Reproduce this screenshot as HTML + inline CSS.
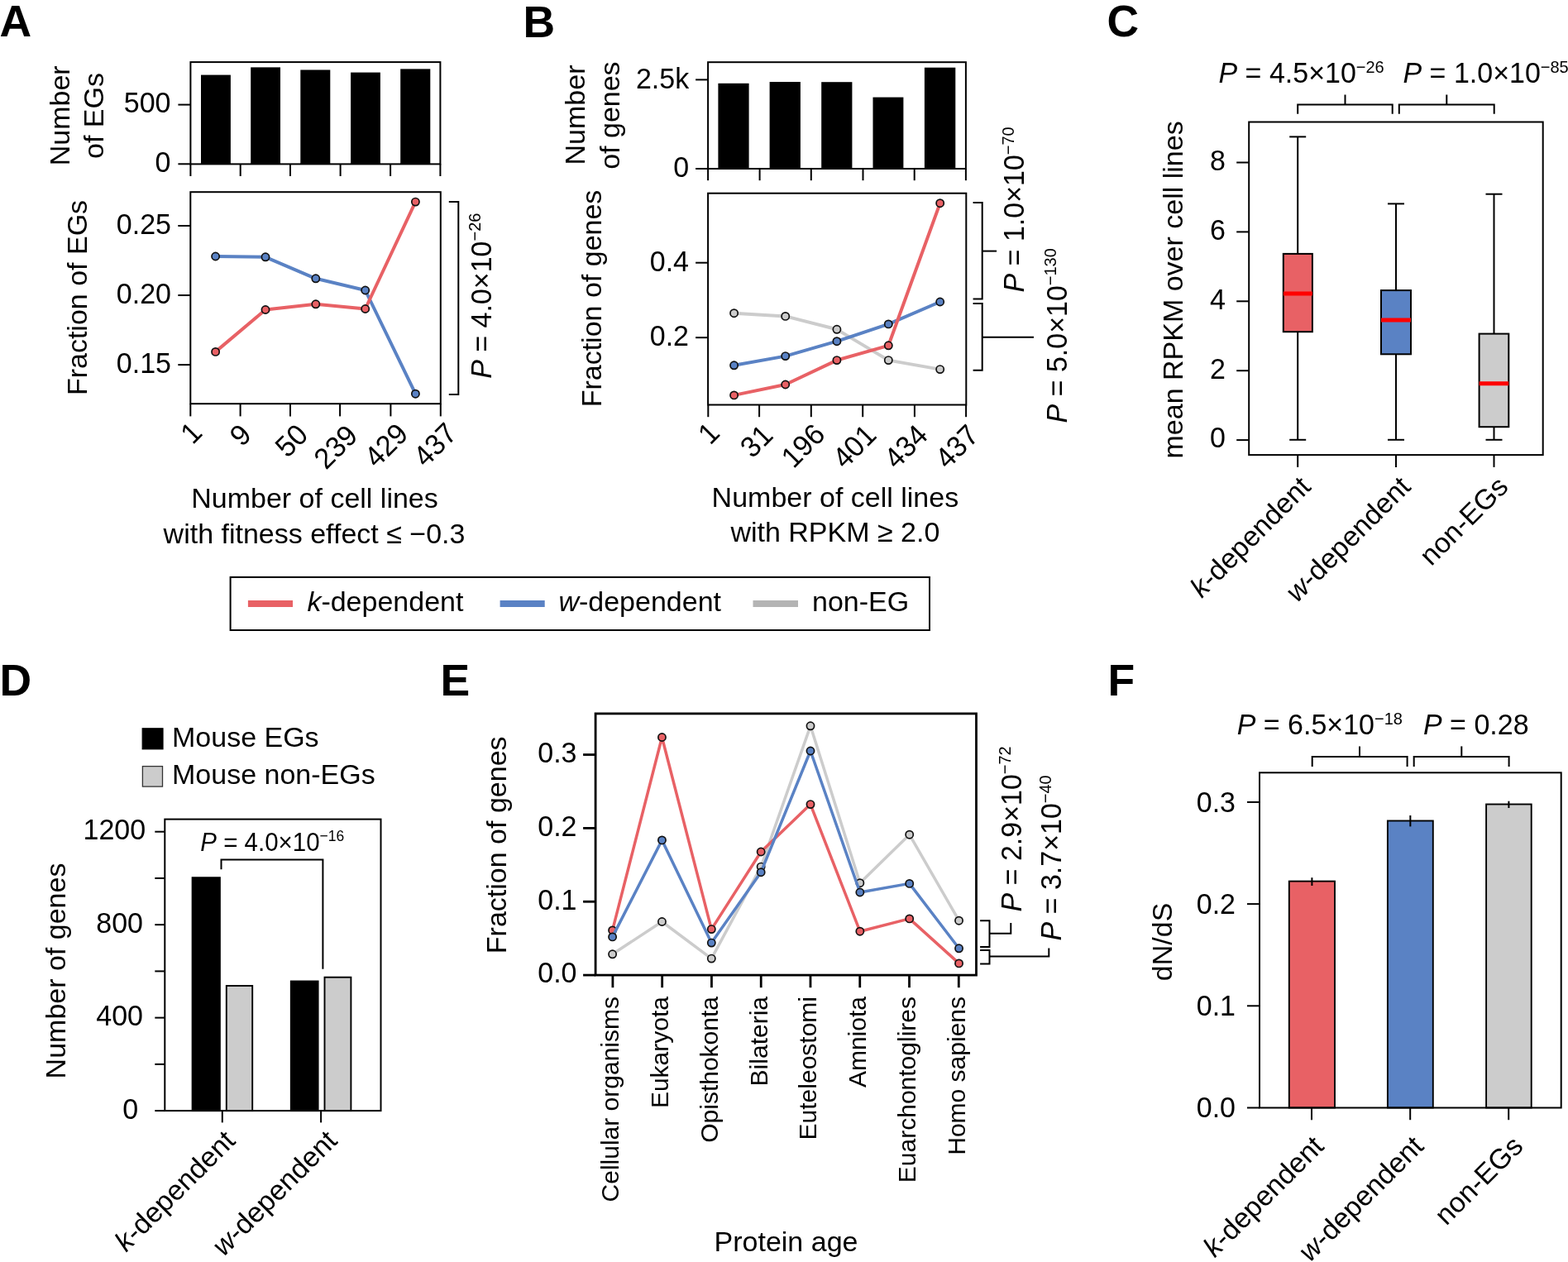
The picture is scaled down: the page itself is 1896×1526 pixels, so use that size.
<!DOCTYPE html>
<html><head><meta charset="utf-8"><title>Figure</title>
<style>
html,body{margin:0;padding:0;background:#fff;overflow:hidden;}
svg{display:block;}
</style></head>
<body>
<svg width="1896" height="1526" viewBox="0 0 1896 1526">
<rect x="0" y="0" width="1896" height="1526" fill="#fff"/>
<g font-family="'Liberation Sans', Arial, Helvetica, sans-serif" font-size="34" fill="#000">
<text x="-0.5" y="43.9" font-size="53.5" font-weight="bold">A</text>
<rect x="243" y="90.6" width="35.9" height="107.8" fill="#000"/>
<rect x="303.2" y="81.4" width="35.8" height="117" fill="#000"/>
<rect x="363.3" y="84.5" width="36" height="113.9" fill="#000"/>
<rect x="424.1" y="87.6" width="35.8" height="110.8" fill="#000"/>
<rect x="484.2" y="83.4" width="36.1" height="115" fill="#000"/>
<rect x="230.4" y="75.1" width="302" height="123.3" fill="none" stroke="#000" stroke-width="2"/>
<line x1="215.4" y1="126.6" x2="230.4" y2="126.6" stroke="#000" stroke-width="2" stroke-linecap="butt"/>
<text transform="translate(206.5,136.15) scale(1,1.04)" text-anchor="end">500</text>
<line x1="215.4" y1="198.3" x2="230.4" y2="198.3" stroke="#000" stroke-width="2" stroke-linecap="butt"/>
<text transform="translate(206.5,207.85) scale(1,1.04)" text-anchor="end">0</text>
<line x1="230.4" y1="198.4" x2="230.4" y2="213" stroke="#000" stroke-width="2" stroke-linecap="butt"/>
<line x1="290.7" y1="198.4" x2="290.7" y2="213" stroke="#000" stroke-width="2" stroke-linecap="butt"/>
<line x1="351" y1="198.4" x2="351" y2="213" stroke="#000" stroke-width="2" stroke-linecap="butt"/>
<line x1="411.6" y1="198.4" x2="411.6" y2="213" stroke="#000" stroke-width="2" stroke-linecap="butt"/>
<line x1="472.1" y1="198.4" x2="472.1" y2="213" stroke="#000" stroke-width="2" stroke-linecap="butt"/>
<line x1="532.4" y1="198.4" x2="532.4" y2="213" stroke="#000" stroke-width="2" stroke-linecap="butt"/>
<text transform="translate(84.1,139.85) rotate(-90)" text-anchor="middle">Number</text>
<text transform="translate(125,140) rotate(-90)" text-anchor="middle">of EGs</text>
<polyline points="260.6,310 321,310.8 381.8,336.8 441.7,351 502.4,476.2" fill="none" stroke="#5A82C4" stroke-width="4" stroke-linejoin="round"/>
<circle cx="260.6" cy="310" r="4.6" fill="#5A82C4" stroke="#111" stroke-width="1.7"/>
<circle cx="321" cy="310.8" r="4.6" fill="#5A82C4" stroke="#111" stroke-width="1.7"/>
<circle cx="381.8" cy="336.8" r="4.6" fill="#5A82C4" stroke="#111" stroke-width="1.7"/>
<circle cx="441.7" cy="351" r="4.6" fill="#5A82C4" stroke="#111" stroke-width="1.7"/>
<circle cx="502.4" cy="476.2" r="4.6" fill="#5A82C4" stroke="#111" stroke-width="1.7"/>
<polyline points="260.6,425.4 321,374.5 381.8,367.8 441.7,373.5 502.4,244.1" fill="none" stroke="#E86165" stroke-width="4" stroke-linejoin="round"/>
<circle cx="260.6" cy="425.4" r="4.6" fill="#E86165" stroke="#111" stroke-width="1.7"/>
<circle cx="321" cy="374.5" r="4.6" fill="#E86165" stroke="#111" stroke-width="1.7"/>
<circle cx="381.8" cy="367.8" r="4.6" fill="#E86165" stroke="#111" stroke-width="1.7"/>
<circle cx="441.7" cy="373.5" r="4.6" fill="#E86165" stroke="#111" stroke-width="1.7"/>
<circle cx="502.4" cy="244.1" r="4.6" fill="#E86165" stroke="#111" stroke-width="1.7"/>
<rect x="230.3" y="232.2" width="302.5" height="256" fill="none" stroke="#000" stroke-width="2"/>
<line x1="215.3" y1="273" x2="230.3" y2="273" stroke="#000" stroke-width="2" stroke-linecap="butt"/>
<text transform="translate(207,282.7) scale(1,1.04)" text-anchor="end">0.25</text>
<line x1="215.3" y1="357.05" x2="230.3" y2="357.05" stroke="#000" stroke-width="2" stroke-linecap="butt"/>
<text transform="translate(207,366.75) scale(1,1.04)" text-anchor="end">0.20</text>
<line x1="215.3" y1="441.1" x2="230.3" y2="441.1" stroke="#000" stroke-width="2" stroke-linecap="butt"/>
<text transform="translate(207,450.8) scale(1,1.04)" text-anchor="end">0.15</text>
<line x1="230.3" y1="488.2" x2="230.3" y2="503.4" stroke="#000" stroke-width="2" stroke-linecap="butt"/>
<line x1="290.6" y1="488.2" x2="290.6" y2="503.4" stroke="#000" stroke-width="2" stroke-linecap="butt"/>
<line x1="351" y1="488.2" x2="351" y2="503.4" stroke="#000" stroke-width="2" stroke-linecap="butt"/>
<line x1="411.1" y1="488.2" x2="411.1" y2="503.4" stroke="#000" stroke-width="2" stroke-linecap="butt"/>
<line x1="472.4" y1="488.2" x2="472.4" y2="503.4" stroke="#000" stroke-width="2" stroke-linecap="butt"/>
<line x1="532.8" y1="488.2" x2="532.8" y2="503.4" stroke="#000" stroke-width="2" stroke-linecap="butt"/>
<text transform="translate(231.1,523.2) rotate(-45) scale(1,1.04)" text-anchor="middle" dominant-baseline="central">1</text>
<text transform="translate(290.5,525.9) rotate(-45) scale(1,1.04)" text-anchor="middle" dominant-baseline="central">9</text>
<text transform="translate(352.3,532.7) rotate(-45) scale(1,1.04)" text-anchor="middle" dominant-baseline="central">50</text>
<text transform="translate(405.7,540.2) rotate(-45) scale(1,1.04)" text-anchor="middle" dominant-baseline="central">239</text>
<text transform="translate(466.7,538.3) rotate(-45) scale(1,1.04)" text-anchor="middle" dominant-baseline="central">429</text>
<text transform="translate(526,537.5) rotate(-45) scale(1,1.04)" text-anchor="middle" dominant-baseline="central">437</text>
<text transform="translate(104.9,360) rotate(-90)" text-anchor="middle">Fraction of EGs</text>
<polyline points="542.8,244.1 554.3,244.1 554.3,476.9 542.8,476.9" fill="none" stroke="#000" stroke-width="2" stroke-linejoin="miter"/>
<text transform="translate(593.7,457.8) rotate(-90) scale(1,1.04)"><tspan font-style="italic">P</tspan> = 4.0×10<tspan font-size="20" dy="-11.9">−26</tspan></text>
<text x="380.5" y="614" text-anchor="middle">Number of cell lines</text>
<text x="380" y="657.2" text-anchor="middle">with fitness effect ≤ −0.3</text>
<text x="632.5" y="44.6" font-size="53.5" font-weight="bold">B</text>
<rect x="868.4" y="100.8" width="37.2" height="103.2" fill="#000"/>
<rect x="930.6" y="99" width="37.3" height="105" fill="#000"/>
<rect x="993.2" y="99.2" width="37.2" height="104.8" fill="#000"/>
<rect x="1055.5" y="117.6" width="36.9" height="86.4" fill="#000"/>
<rect x="1117.9" y="81.7" width="37.4" height="122.3" fill="#000"/>
<rect x="856.1" y="75.2" width="311.8" height="128.8" fill="none" stroke="#000" stroke-width="2"/>
<line x1="841.1" y1="96.4" x2="856.1" y2="96.4" stroke="#000" stroke-width="2" stroke-linecap="butt"/>
<text transform="translate(833.2,106.5) scale(1,1.04)" text-anchor="end">2.5k</text>
<line x1="841.1" y1="204" x2="856.1" y2="204" stroke="#000" stroke-width="2" stroke-linecap="butt"/>
<text transform="translate(833.2,214.1) scale(1,1.04)" text-anchor="end">0</text>
<line x1="856.1" y1="204" x2="856.1" y2="218.2" stroke="#000" stroke-width="2" stroke-linecap="butt"/>
<line x1="918.6" y1="204" x2="918.6" y2="218.2" stroke="#000" stroke-width="2" stroke-linecap="butt"/>
<line x1="980.8" y1="204" x2="980.8" y2="218.2" stroke="#000" stroke-width="2" stroke-linecap="butt"/>
<line x1="1043.5" y1="204" x2="1043.5" y2="218.2" stroke="#000" stroke-width="2" stroke-linecap="butt"/>
<line x1="1105.7" y1="204" x2="1105.7" y2="218.2" stroke="#000" stroke-width="2" stroke-linecap="butt"/>
<line x1="1167.9" y1="204" x2="1167.9" y2="218.2" stroke="#000" stroke-width="2" stroke-linecap="butt"/>
<text transform="translate(707,139) rotate(-90)" text-anchor="middle">Number</text>
<text transform="translate(749,139.6) rotate(-90)" text-anchor="middle">of genes</text>
<polyline points="887.6,378.7 949.7,382.4 1011.9,398.3 1074.3,435.6 1136.7,446.6" fill="none" stroke="#CCCCCC" stroke-width="4" stroke-linejoin="round"/>
<circle cx="887.6" cy="378.7" r="4.6" fill="#CCCCCC" stroke="#111" stroke-width="1.7"/>
<circle cx="949.7" cy="382.4" r="4.6" fill="#CCCCCC" stroke="#111" stroke-width="1.7"/>
<circle cx="1011.9" cy="398.3" r="4.6" fill="#CCCCCC" stroke="#111" stroke-width="1.7"/>
<circle cx="1074.3" cy="435.6" r="4.6" fill="#CCCCCC" stroke="#111" stroke-width="1.7"/>
<circle cx="1136.7" cy="446.6" r="4.6" fill="#CCCCCC" stroke="#111" stroke-width="1.7"/>
<polyline points="887.6,441.8 949.7,430.6 1011.9,412.7 1074.3,391.9 1136.7,365" fill="none" stroke="#5A82C4" stroke-width="4" stroke-linejoin="round"/>
<circle cx="887.6" cy="441.8" r="4.6" fill="#5A82C4" stroke="#111" stroke-width="1.7"/>
<circle cx="949.7" cy="430.6" r="4.6" fill="#5A82C4" stroke="#111" stroke-width="1.7"/>
<circle cx="1011.9" cy="412.7" r="4.6" fill="#5A82C4" stroke="#111" stroke-width="1.7"/>
<circle cx="1074.3" cy="391.9" r="4.6" fill="#5A82C4" stroke="#111" stroke-width="1.7"/>
<circle cx="1136.7" cy="365" r="4.6" fill="#5A82C4" stroke="#111" stroke-width="1.7"/>
<polyline points="887.6,477.9 949.7,465 1011.9,435.6 1074.3,417.8 1136.7,245.7" fill="none" stroke="#E86165" stroke-width="4" stroke-linejoin="round"/>
<circle cx="887.6" cy="477.9" r="4.6" fill="#E86165" stroke="#111" stroke-width="1.7"/>
<circle cx="949.7" cy="465" r="4.6" fill="#E86165" stroke="#111" stroke-width="1.7"/>
<circle cx="1011.9" cy="435.6" r="4.6" fill="#E86165" stroke="#111" stroke-width="1.7"/>
<circle cx="1074.3" cy="417.8" r="4.6" fill="#E86165" stroke="#111" stroke-width="1.7"/>
<circle cx="1136.7" cy="245.7" r="4.6" fill="#E86165" stroke="#111" stroke-width="1.7"/>
<rect x="856.1" y="233.7" width="312.2" height="255.8" fill="none" stroke="#000" stroke-width="2"/>
<line x1="841.1" y1="317.7" x2="856.1" y2="317.7" stroke="#000" stroke-width="2" stroke-linecap="butt"/>
<text transform="translate(833,327.9) scale(1,1.04)" text-anchor="end">0.4</text>
<line x1="841.1" y1="408.2" x2="856.1" y2="408.2" stroke="#000" stroke-width="2" stroke-linecap="butt"/>
<text transform="translate(833,418.4) scale(1,1.04)" text-anchor="end">0.2</text>
<line x1="856.3" y1="489.5" x2="856.3" y2="504.2" stroke="#000" stroke-width="2" stroke-linecap="butt"/>
<line x1="918.1" y1="489.5" x2="918.1" y2="504.2" stroke="#000" stroke-width="2" stroke-linecap="butt"/>
<line x1="980.8" y1="489.5" x2="980.8" y2="504.2" stroke="#000" stroke-width="2" stroke-linecap="butt"/>
<line x1="1043.2" y1="489.5" x2="1043.2" y2="504.2" stroke="#000" stroke-width="2" stroke-linecap="butt"/>
<line x1="1105.9" y1="489.5" x2="1105.9" y2="504.2" stroke="#000" stroke-width="2" stroke-linecap="butt"/>
<line x1="1168.1" y1="489.5" x2="1168.1" y2="504.2" stroke="#000" stroke-width="2" stroke-linecap="butt"/>
<text transform="translate(856.9,523.7) rotate(-45) scale(1,1.04)" text-anchor="middle" dominant-baseline="central">1</text>
<text transform="translate(914.5,533.2) rotate(-45) scale(1,1.04)" text-anchor="middle" dominant-baseline="central">31</text>
<text transform="translate(970.8,538.7) rotate(-45) scale(1,1.04)" text-anchor="middle" dominant-baseline="central">196</text>
<text transform="translate(1032.8,539.6) rotate(-45) scale(1,1.04)" text-anchor="middle" dominant-baseline="central">401</text>
<text transform="translate(1095.2,539.7) rotate(-45) scale(1,1.04)" text-anchor="middle" dominant-baseline="central">434</text>
<text transform="translate(1156.9,539.7) rotate(-45) scale(1,1.04)" text-anchor="middle" dominant-baseline="central">437</text>
<text transform="translate(727.4,361) rotate(-90)" text-anchor="middle">Fraction of genes</text>
<polyline points="1176.6,245 1187.7,245 1187.7,361.5 1176.6,361.5" fill="none" stroke="#000" stroke-width="2" stroke-linejoin="miter"/>
<line x1="1187.7" y1="303.6" x2="1205.1" y2="303.6" stroke="#000" stroke-width="2" stroke-linecap="butt"/>
<polyline points="1176.6,367 1187.7,367 1187.7,447.7 1176.6,447.7" fill="none" stroke="#000" stroke-width="2" stroke-linejoin="miter"/>
<line x1="1187.7" y1="407.8" x2="1250" y2="407.8" stroke="#000" stroke-width="2" stroke-linecap="butt"/>
<text transform="translate(1238,353.5) rotate(-90) scale(1,1.04)"><tspan font-style="italic">P</tspan> = 1.0×10<tspan font-size="20" dy="-11.9">−70</tspan></text>
<text transform="translate(1289.7,511.5) rotate(-90) scale(1,1.04)"><tspan font-style="italic">P</tspan> = 5.0×10<tspan font-size="20" dy="-11.9">−130</tspan></text>
<text x="1009.9" y="613.3" text-anchor="middle">Number of cell lines</text>
<text x="1009.9" y="654.7" text-anchor="middle">with RPKM ≥ 2.0</text>
<rect x="278.6" y="697.9" width="845.4" height="64.1" fill="none" stroke="#000" stroke-width="2"/>
<line x1="299.9" y1="729.9" x2="354" y2="729.9" stroke="#E86165" stroke-width="8" stroke-linecap="butt"/>
<line x1="604.6" y1="729.9" x2="658.7" y2="729.9" stroke="#5A82C4" stroke-width="8" stroke-linecap="butt"/>
<line x1="910.5" y1="729.9" x2="965" y2="729.9" stroke="#B4B4B4" stroke-width="8" stroke-linecap="butt"/>
<text x="371.4" y="739.2"><tspan font-style="italic">k</tspan>-dependent</text>
<text x="675.4" y="739.2"><tspan font-style="italic">w</tspan>-dependent</text>
<text x="982" y="739.2">non-EG</text>
<text x="1338.5" y="44.2" font-size="53.5" font-weight="bold">C</text>
<line x1="1569.2" y1="165.4" x2="1569.2" y2="306.9" stroke="#000" stroke-width="2" stroke-linecap="butt"/>
<line x1="1569.2" y1="401.2" x2="1569.2" y2="531.8" stroke="#000" stroke-width="2" stroke-linecap="butt"/>
<line x1="1559.2" y1="165.4" x2="1579.2" y2="165.4" stroke="#000" stroke-width="2" stroke-linecap="butt"/>
<line x1="1559.2" y1="531.8" x2="1579.2" y2="531.8" stroke="#000" stroke-width="2" stroke-linecap="butt"/>
<rect x="1551.8" y="306.9" width="35.1" height="94.3" fill="#E86165" stroke="#000" stroke-width="2"/>
<line x1="1551.8" y1="354.9" x2="1586.9" y2="354.9" stroke="#FF0000" stroke-width="5" stroke-linecap="butt"/>
<line x1="1688" y1="246.4" x2="1688" y2="351.1" stroke="#000" stroke-width="2" stroke-linecap="butt"/>
<line x1="1688" y1="428.3" x2="1688" y2="531.8" stroke="#000" stroke-width="2" stroke-linecap="butt"/>
<line x1="1678" y1="246.4" x2="1698" y2="246.4" stroke="#000" stroke-width="2" stroke-linecap="butt"/>
<line x1="1678" y1="531.8" x2="1698" y2="531.8" stroke="#000" stroke-width="2" stroke-linecap="butt"/>
<rect x="1670" y="351.1" width="36" height="77.2" fill="#5A82C4" stroke="#000" stroke-width="2"/>
<line x1="1670" y1="387.1" x2="1706" y2="387.1" stroke="#FF0000" stroke-width="5" stroke-linecap="butt"/>
<line x1="1806.5" y1="234.7" x2="1806.5" y2="403.6" stroke="#000" stroke-width="2" stroke-linecap="butt"/>
<line x1="1806.5" y1="516.2" x2="1806.5" y2="531.8" stroke="#000" stroke-width="2" stroke-linecap="butt"/>
<line x1="1796.5" y1="234.7" x2="1816.5" y2="234.7" stroke="#000" stroke-width="2" stroke-linecap="butt"/>
<line x1="1796.5" y1="531.8" x2="1816.5" y2="531.8" stroke="#000" stroke-width="2" stroke-linecap="butt"/>
<rect x="1788.6" y="403.6" width="35.7" height="112.6" fill="#CCCCCC" stroke="#000" stroke-width="2"/>
<line x1="1788.6" y1="463.7" x2="1824.3" y2="463.7" stroke="#FF0000" stroke-width="5" stroke-linecap="butt"/>
<rect x="1510.2" y="147.5" width="355.5" height="402.6" fill="none" stroke="#000" stroke-width="2"/>
<line x1="1495.2" y1="532.1" x2="1510.2" y2="532.1" stroke="#000" stroke-width="2" stroke-linecap="butt"/>
<text transform="translate(1482,541.4) scale(1,1.04)" text-anchor="end">0</text>
<line x1="1495.2" y1="448.2" x2="1510.2" y2="448.2" stroke="#000" stroke-width="2" stroke-linecap="butt"/>
<text transform="translate(1482,457.5) scale(1,1.04)" text-anchor="end">2</text>
<line x1="1495.2" y1="364.3" x2="1510.2" y2="364.3" stroke="#000" stroke-width="2" stroke-linecap="butt"/>
<text transform="translate(1482,373.6) scale(1,1.04)" text-anchor="end">4</text>
<line x1="1495.2" y1="280.4" x2="1510.2" y2="280.4" stroke="#000" stroke-width="2" stroke-linecap="butt"/>
<text transform="translate(1482,289.7) scale(1,1.04)" text-anchor="end">6</text>
<line x1="1495.2" y1="196.5" x2="1510.2" y2="196.5" stroke="#000" stroke-width="2" stroke-linecap="butt"/>
<text transform="translate(1482,205.8) scale(1,1.04)" text-anchor="end">8</text>
<line x1="1569.2" y1="550.1" x2="1569.2" y2="564.9" stroke="#000" stroke-width="2" stroke-linecap="butt"/>
<line x1="1688" y1="550.1" x2="1688" y2="564.9" stroke="#000" stroke-width="2" stroke-linecap="butt"/>
<line x1="1806.5" y1="550.1" x2="1806.5" y2="564.9" stroke="#000" stroke-width="2" stroke-linecap="butt"/>
<text transform="translate(1429.8,350.4) rotate(-90)" text-anchor="middle">mean RPKM over cell lines</text>
<polyline points="1569.2,137.7 1569.2,126.5 1683.7,126.5 1683.7,137.7" fill="none" stroke="#000" stroke-width="2" stroke-linejoin="miter"/>
<line x1="1626.5" y1="126.5" x2="1626.5" y2="114.5" stroke="#000" stroke-width="2" stroke-linecap="butt"/>
<polyline points="1691.8,137.7 1691.8,126.5 1806.7,126.5 1806.7,137.7" fill="none" stroke="#000" stroke-width="2" stroke-linejoin="miter"/>
<line x1="1749.3" y1="126.5" x2="1749.3" y2="114.5" stroke="#000" stroke-width="2" stroke-linecap="butt"/>
<text transform="translate(1473.5,100.2) scale(1,1.04)"><tspan font-style="italic">P</tspan> = 4.5×10<tspan font-size="20" dy="-11.9">−26</tspan></text>
<text transform="translate(1696.5,100.2) scale(1,1.04)"><tspan font-style="italic">P</tspan> = 1.0×10<tspan font-size="20" dy="-11.9">−85</tspan></text>
<text transform="translate(1586.7,590.5) rotate(-45)" text-anchor="end"><tspan font-style="italic">k</tspan>-dependent</text>
<text transform="translate(1707.5,590.5) rotate(-45)" text-anchor="end"><tspan font-style="italic">w</tspan>-dependent</text>
<text transform="translate(1825.5,590.5) rotate(-45)" text-anchor="end">non-EGs</text>
<text x="-0.5" y="841.3" font-size="53.5" font-weight="bold">D</text>
<rect x="172.2" y="880.8" width="24.8" height="25" fill="#000" stroke="#000" stroke-width="1.2"/>
<rect x="172.4" y="926.6" width="24.1" height="24.5" fill="#CCCCCC" stroke="#333" stroke-width="1.3"/>
<text x="208" y="902.8">Mouse EGs</text>
<text x="208" y="947.8">Mouse non-EGs</text>
<rect x="232.6" y="1061.2" width="33.3" height="281.9" fill="#000" stroke="#000" stroke-width="1.9"/>
<rect x="273.8" y="1192" width="31.4" height="151.1" fill="#CCCCCC" stroke="#000" stroke-width="1.9"/>
<rect x="351.8" y="1186.5" width="32.8" height="156.6" fill="#000" stroke="#000" stroke-width="1.9"/>
<rect x="392.5" y="1181.7" width="31.9" height="161.4" fill="#CCCCCC" stroke="#000" stroke-width="1.9"/>
<rect x="199.3" y="990.6" width="261.2" height="352.5" fill="none" stroke="#000" stroke-width="2"/>
<line x1="187.3" y1="1343.1" x2="199.3" y2="1343.1" stroke="#000" stroke-width="2" stroke-linecap="butt"/>
<text transform="translate(167.2,1352.7) scale(1,1.04)" text-anchor="end">0</text>
<line x1="187.3" y1="1286.87" x2="199.3" y2="1286.87" stroke="#000" stroke-width="2" stroke-linecap="butt"/>
<line x1="187.3" y1="1230.63" x2="199.3" y2="1230.63" stroke="#000" stroke-width="2" stroke-linecap="butt"/>
<text transform="translate(173,1240.23) scale(1,1.04)" text-anchor="end">400</text>
<line x1="187.3" y1="1174.4" x2="199.3" y2="1174.4" stroke="#000" stroke-width="2" stroke-linecap="butt"/>
<line x1="187.3" y1="1118.16" x2="199.3" y2="1118.16" stroke="#000" stroke-width="2" stroke-linecap="butt"/>
<text transform="translate(173,1127.76) scale(1,1.04)" text-anchor="end">800</text>
<line x1="187.3" y1="1061.93" x2="199.3" y2="1061.93" stroke="#000" stroke-width="2" stroke-linecap="butt"/>
<line x1="187.3" y1="1005.7" x2="199.3" y2="1005.7" stroke="#000" stroke-width="2" stroke-linecap="butt"/>
<text transform="translate(176.1,1015.3) scale(1,1.04)" text-anchor="end">1200</text>
<line x1="268.8" y1="1343.1" x2="268.8" y2="1357.4" stroke="#000" stroke-width="2" stroke-linecap="butt"/>
<line x1="388.1" y1="1343.1" x2="388.1" y2="1357.4" stroke="#000" stroke-width="2" stroke-linecap="butt"/>
<text transform="translate(78.8,1174) rotate(-90)" text-anchor="middle">Number of genes</text>
<polyline points="267.5,1051.2 267.5,1039.4 390.4,1039.4 390.4,1171.8" fill="none" stroke="#000" stroke-width="2" stroke-linejoin="miter"/>
<text transform="translate(242.3,1028.5) scale(1,1.04)" font-size="29.5"><tspan font-style="italic">P</tspan> = 4.0×10<tspan font-size="17.5" dy="-10.6">−16</tspan></text>
<text transform="translate(286.2,1381.2) rotate(-45)" text-anchor="end"><tspan font-style="italic">k</tspan>-dependent</text>
<text transform="translate(409.5,1381.2) rotate(-45)" text-anchor="end"><tspan font-style="italic">w</tspan>-dependent</text>
<text x="532.5" y="841.1" font-size="53.5" font-weight="bold">E</text>
<polyline points="740.6,1153.8 800.45,1114.5 860.3,1159.1 920.15,1048.1 980,877.8 1039.85,1067.7 1099.7,1009.2 1159.55,1113.2" fill="none" stroke="#CCCCCC" stroke-width="3.5" stroke-linejoin="round"/>
<circle cx="740.6" cy="1153.8" r="4.6" fill="#CCCCCC" stroke="#111" stroke-width="1.7"/>
<circle cx="800.45" cy="1114.5" r="4.6" fill="#CCCCCC" stroke="#111" stroke-width="1.7"/>
<circle cx="860.3" cy="1159.1" r="4.6" fill="#CCCCCC" stroke="#111" stroke-width="1.7"/>
<circle cx="920.15" cy="1048.1" r="4.6" fill="#CCCCCC" stroke="#111" stroke-width="1.7"/>
<circle cx="980" cy="877.8" r="4.6" fill="#CCCCCC" stroke="#111" stroke-width="1.7"/>
<circle cx="1039.85" cy="1067.7" r="4.6" fill="#CCCCCC" stroke="#111" stroke-width="1.7"/>
<circle cx="1099.7" cy="1009.2" r="4.6" fill="#CCCCCC" stroke="#111" stroke-width="1.7"/>
<circle cx="1159.55" cy="1113.2" r="4.6" fill="#CCCCCC" stroke="#111" stroke-width="1.7"/>
<polyline points="740.6,1124.9 800.45,891.5 860.3,1123.6 920.15,1030 980,972.6 1039.85,1126.2 1099.7,1110.9 1159.55,1164.9" fill="none" stroke="#E86165" stroke-width="3.5" stroke-linejoin="round"/>
<circle cx="740.6" cy="1124.9" r="4.6" fill="#E86165" stroke="#111" stroke-width="1.7"/>
<circle cx="800.45" cy="891.5" r="4.6" fill="#E86165" stroke="#111" stroke-width="1.7"/>
<circle cx="860.3" cy="1123.6" r="4.6" fill="#E86165" stroke="#111" stroke-width="1.7"/>
<circle cx="920.15" cy="1030" r="4.6" fill="#E86165" stroke="#111" stroke-width="1.7"/>
<circle cx="980" cy="972.6" r="4.6" fill="#E86165" stroke="#111" stroke-width="1.7"/>
<circle cx="1039.85" cy="1126.2" r="4.6" fill="#E86165" stroke="#111" stroke-width="1.7"/>
<circle cx="1099.7" cy="1110.9" r="4.6" fill="#E86165" stroke="#111" stroke-width="1.7"/>
<circle cx="1159.55" cy="1164.9" r="4.6" fill="#E86165" stroke="#111" stroke-width="1.7"/>
<polyline points="740.6,1132.9 800.45,1015.9 860.3,1140.1 920.15,1054.7 980,908 1039.85,1079 1099.7,1068.4 1159.55,1146.8" fill="none" stroke="#5A82C4" stroke-width="3.5" stroke-linejoin="round"/>
<circle cx="740.6" cy="1132.9" r="4.6" fill="#5A82C4" stroke="#111" stroke-width="1.7"/>
<circle cx="800.45" cy="1015.9" r="4.6" fill="#5A82C4" stroke="#111" stroke-width="1.7"/>
<circle cx="860.3" cy="1140.1" r="4.6" fill="#5A82C4" stroke="#111" stroke-width="1.7"/>
<circle cx="920.15" cy="1054.7" r="4.6" fill="#5A82C4" stroke="#111" stroke-width="1.7"/>
<circle cx="980" cy="908" r="4.6" fill="#5A82C4" stroke="#111" stroke-width="1.7"/>
<circle cx="1039.85" cy="1079" r="4.6" fill="#5A82C4" stroke="#111" stroke-width="1.7"/>
<circle cx="1099.7" cy="1068.4" r="4.6" fill="#5A82C4" stroke="#111" stroke-width="1.7"/>
<circle cx="1159.55" cy="1146.8" r="4.6" fill="#5A82C4" stroke="#111" stroke-width="1.7"/>
<rect x="720.1" y="862.9" width="460.4" height="316.2" fill="none" stroke="#000" stroke-width="2.8"/>
<line x1="705.1" y1="1179.1" x2="720.1" y2="1179.1" stroke="#000" stroke-width="2.8" stroke-linecap="butt"/>
<text transform="translate(697.5,1188.4) scale(1,1.04)" text-anchor="end">0.0</text>
<line x1="705.1" y1="1090.25" x2="720.1" y2="1090.25" stroke="#000" stroke-width="2.8" stroke-linecap="butt"/>
<text transform="translate(697.5,1099.55) scale(1,1.04)" text-anchor="end">0.1</text>
<line x1="705.1" y1="1001.4" x2="720.1" y2="1001.4" stroke="#000" stroke-width="2.8" stroke-linecap="butt"/>
<text transform="translate(697.5,1010.7) scale(1,1.04)" text-anchor="end">0.2</text>
<line x1="705.1" y1="912.55" x2="720.1" y2="912.55" stroke="#000" stroke-width="2.8" stroke-linecap="butt"/>
<text transform="translate(697.5,921.85) scale(1,1.04)" text-anchor="end">0.3</text>
<line x1="740.9" y1="1179.1" x2="740.9" y2="1194.2" stroke="#000" stroke-width="2.8" stroke-linecap="butt"/>
<line x1="800.67" y1="1179.1" x2="800.67" y2="1194.2" stroke="#000" stroke-width="2.8" stroke-linecap="butt"/>
<line x1="860.44" y1="1179.1" x2="860.44" y2="1194.2" stroke="#000" stroke-width="2.8" stroke-linecap="butt"/>
<line x1="920.21" y1="1179.1" x2="920.21" y2="1194.2" stroke="#000" stroke-width="2.8" stroke-linecap="butt"/>
<line x1="979.98" y1="1179.1" x2="979.98" y2="1194.2" stroke="#000" stroke-width="2.8" stroke-linecap="butt"/>
<line x1="1039.75" y1="1179.1" x2="1039.75" y2="1194.2" stroke="#000" stroke-width="2.8" stroke-linecap="butt"/>
<line x1="1099.52" y1="1179.1" x2="1099.52" y2="1194.2" stroke="#000" stroke-width="2.8" stroke-linecap="butt"/>
<line x1="1159.29" y1="1179.1" x2="1159.29" y2="1194.2" stroke="#000" stroke-width="2.8" stroke-linecap="butt"/>
<text transform="translate(748.4,1205) rotate(-90)" text-anchor="end" font-size="30">Cellular organisms</text>
<text transform="translate(808.17,1205) rotate(-90)" text-anchor="end" font-size="30">Eukaryota</text>
<text transform="translate(867.94,1205) rotate(-90)" text-anchor="end" font-size="30">Opisthokonta</text>
<text transform="translate(927.71,1205) rotate(-90)" text-anchor="end" font-size="30">Bilateria</text>
<text transform="translate(987.48,1205) rotate(-90)" text-anchor="end" font-size="30">Euteleostomi</text>
<text transform="translate(1047.25,1205) rotate(-90)" text-anchor="end" font-size="30">Amniota</text>
<text transform="translate(1107.02,1205) rotate(-90)" text-anchor="end" font-size="30">Euarchontoglires</text>
<text transform="translate(1166.79,1205) rotate(-90)" text-anchor="end" font-size="30">Homo sapiens</text>
<text x="950.5" y="1512.8" text-anchor="middle">Protein age</text>
<text transform="translate(612.4,1021.8) rotate(-90)" text-anchor="middle">Fraction of genes</text>
<polyline points="1185.1,1113.3 1196.5,1113.3 1196.5,1144.9 1185.1,1144.9" fill="none" stroke="#000" stroke-width="2" stroke-linejoin="miter"/>
<polyline points="1196.5,1128.7 1222.3,1128.7 1222.3,1116.1" fill="none" stroke="#000" stroke-width="2" stroke-linejoin="miter"/>
<polyline points="1185.1,1149 1196.5,1149 1196.5,1165.4 1185.1,1165.4" fill="none" stroke="#000" stroke-width="2" stroke-linejoin="miter"/>
<polyline points="1196.5,1156.5 1268.3,1156.5 1268.3,1146.6" fill="none" stroke="#000" stroke-width="2" stroke-linejoin="miter"/>
<text transform="translate(1234.5,1102.5) rotate(-90) scale(1,1.04)"><tspan font-style="italic">P</tspan> = 2.9×10<tspan font-size="20" dy="-11.9">−72</tspan></text>
<text transform="translate(1283,1137.5) rotate(-90) scale(1,1.04)"><tspan font-style="italic">P</tspan> = 3.7×10<tspan font-size="20" dy="-11.9">−40</tspan></text>
<text x="1339.5" y="841.2" font-size="53.5" font-weight="bold">F</text>
<rect x="1558.8" y="1065.6" width="55.2" height="273.9" fill="#E86165" stroke="#000" stroke-width="1.9"/>
<line x1="1586.4" y1="1061.2" x2="1586.4" y2="1071" stroke="#000" stroke-width="2" stroke-linecap="butt"/>
<rect x="1677.9" y="992.5" width="54.9" height="347" fill="#5A82C4" stroke="#000" stroke-width="1.9"/>
<line x1="1705.35" y1="986" x2="1705.35" y2="999.4" stroke="#000" stroke-width="2" stroke-linecap="butt"/>
<rect x="1797.1" y="972.5" width="54.6" height="367" fill="#CCCCCC" stroke="#000" stroke-width="1.9"/>
<line x1="1824.4" y1="968.7" x2="1824.4" y2="977" stroke="#000" stroke-width="2" stroke-linecap="butt"/>
<rect x="1523" y="934.3" width="364.7" height="405.2" fill="none" stroke="#000" stroke-width="2"/>
<line x1="1508" y1="1339.5" x2="1523" y2="1339.5" stroke="#000" stroke-width="2" stroke-linecap="butt"/>
<text transform="translate(1494,1351.2) scale(1,1.04)" text-anchor="end">0.0</text>
<line x1="1508" y1="1216.3" x2="1523" y2="1216.3" stroke="#000" stroke-width="2" stroke-linecap="butt"/>
<text transform="translate(1494,1228) scale(1,1.04)" text-anchor="end">0.1</text>
<line x1="1508" y1="1093.1" x2="1523" y2="1093.1" stroke="#000" stroke-width="2" stroke-linecap="butt"/>
<text transform="translate(1494,1104.8) scale(1,1.04)" text-anchor="end">0.2</text>
<line x1="1508" y1="969.9" x2="1523" y2="969.9" stroke="#000" stroke-width="2" stroke-linecap="butt"/>
<text transform="translate(1494,981.6) scale(1,1.04)" text-anchor="end">0.3</text>
<line x1="1586" y1="1339.5" x2="1586" y2="1354.2" stroke="#000" stroke-width="2" stroke-linecap="butt"/>
<line x1="1705.2" y1="1339.5" x2="1705.2" y2="1354.2" stroke="#000" stroke-width="2" stroke-linecap="butt"/>
<line x1="1824.2" y1="1339.5" x2="1824.2" y2="1354.2" stroke="#000" stroke-width="2" stroke-linecap="butt"/>
<text transform="translate(1417.4,1138.9) rotate(-90)" text-anchor="middle">dN/dS</text>
<polyline points="1586.7,926.9 1586.7,914.9 1701.6,914.9 1701.6,926.9" fill="none" stroke="#000" stroke-width="2" stroke-linejoin="miter"/>
<line x1="1644" y1="914.9" x2="1644" y2="902.4" stroke="#000" stroke-width="2" stroke-linecap="butt"/>
<polyline points="1709.7,926.9 1709.7,914.9 1824.6,914.9 1824.6,926.9" fill="none" stroke="#000" stroke-width="2" stroke-linejoin="miter"/>
<line x1="1767.3" y1="914.9" x2="1767.3" y2="902.4" stroke="#000" stroke-width="2" stroke-linecap="butt"/>
<text transform="translate(1495.7,888.1) scale(1,1.04)"><tspan font-style="italic">P</tspan> = 6.5×10<tspan font-size="20" dy="-11.9">−18</tspan></text>
<text transform="translate(1721,888.1) scale(1,1.04)"><tspan font-style="italic">P</tspan> = 0.28</text>
<text transform="translate(1602.5,1388) rotate(-45)" text-anchor="end"><tspan font-style="italic">k</tspan>-dependent</text>
<text transform="translate(1723.1,1388) rotate(-45)" text-anchor="end"><tspan font-style="italic">w</tspan>-dependent</text>
<text transform="translate(1843.6,1388) rotate(-45)" text-anchor="end">non-EGs</text>
</g>
</svg>
</body></html>
